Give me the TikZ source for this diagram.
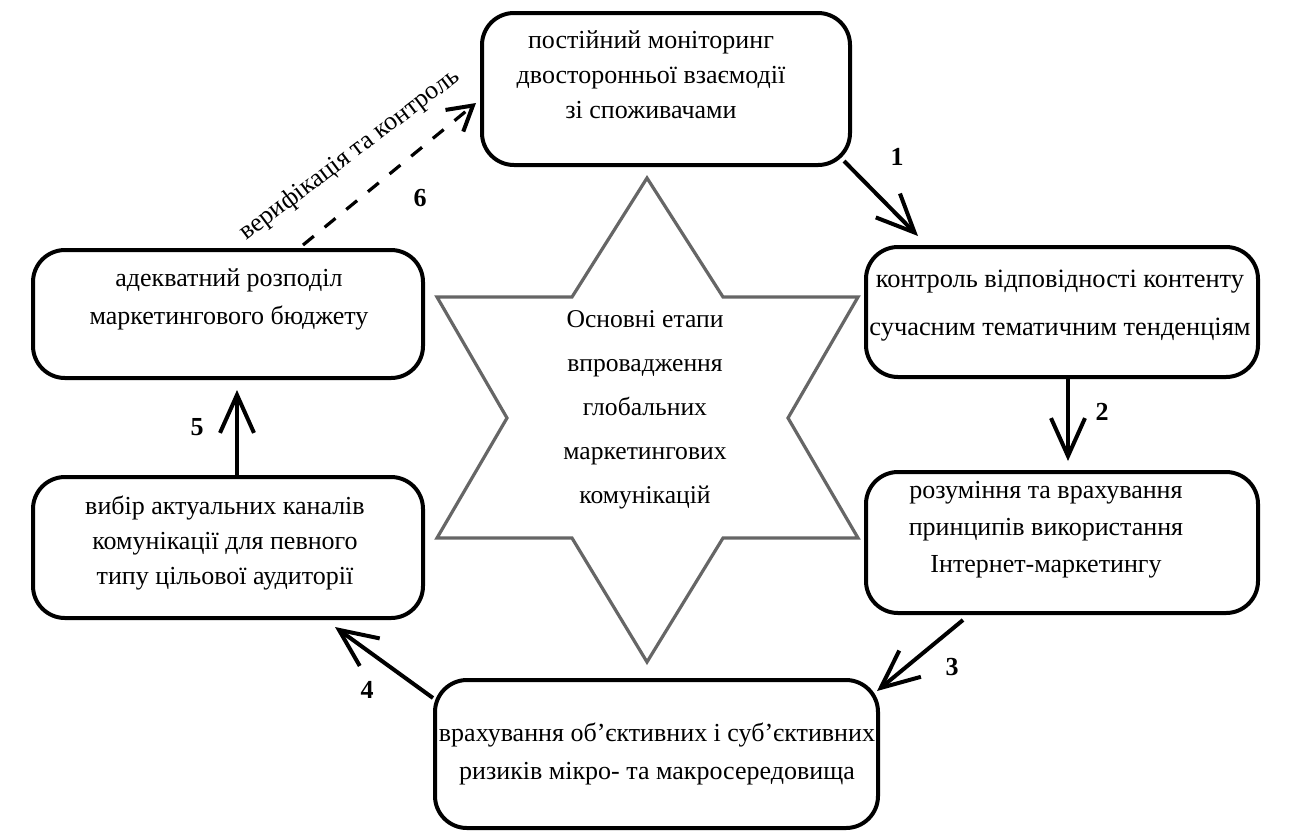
\documentclass[tikz,border=0pt]{standalone}
\usepackage{fontspec}
\setmainfont{Liberation Serif}
\usetikzlibrary{arrows.meta,calc}
\begin{document}
\begin{tikzpicture}[x=0.5pt,y=-0.5pt,
  box/.style={draw=black, line width=2pt, rounded corners=16pt, inner sep=0pt},
  txt/.style={align=center, inner sep=0pt, text=black, font=\fontsize{13}{#1}\selectfont},
  num/.style={inner sep=0pt, font=\fontsize{13}{13}\selectfont\bfseries},
  conn/.style={line width=2pt, -{Straight Barb[length=19pt,width=17pt,line width=2pt]}},
  dconn/.style={line width=1.6pt, dash pattern=on 7pt off 7pt, -{Straight Barb[length=12pt,width=14pt,line width=2pt]}},
  starline/.style={draw=black!60, line width=1.6pt, line join=miter}
]
\useasboundingbox[fill=white] (0,0) rectangle (1301,832);

% boxes
\node[box, minimum width=184pt, minimum height=76pt] (top) at (666,89) {};
\node[box, minimum width=196pt, minimum height=65pt] (r1) at (1062,312) {};
\node[box, minimum width=196pt, minimum height=70.5pt] (r2) at (1062,542.5) {};
\node[box, minimum width=221.5pt, minimum height=74pt] (bot) at (656.5,754) {};
\node[box, minimum width=195pt, minimum height=70.5pt] (l1) at (228,547.5) {};
\node[box, minimum width=195pt, minimum height=64pt] (l2) at (228,314) {};

% texts
\node[txt=17.5] (ttop) at (651,75) {постійний моніторинг\\двосторонньої взаємодії\\зі споживачами};
\node[txt=24, font=\fontsize{13.2}{24}\selectfont] (tr1) at (1060,306) {контроль відповідності контенту\\сучасним тематичним тенденціям};
\node[txt=18.5] (tr2) at (1046,530) {розуміння та врахування\\принципів використання\\Інтернет-маркетингу};
\node[txt=19] (tbot) at (657,754) {врахування об’єктивних і суб’єктивних\\ризиків мікро- та макросередовища};
\node[txt=19] (tl2) at (229,299) {адекватний розподіл\\маркетингового бюджету};
\node[txt=17.5] (tl1) at (225,543) {вибір актуальних каналів\\комунікації для певного\\типу цільової аудиторії};

% star
\draw[starline] (647,178) -- (723,297) -- (858,297) -- (788,418) -- (858,538) -- (723,538)
  -- (647,662) -- (572,538) -- (437,538) -- (507,418) -- (437,297) -- (572,297) -- cycle;
\node[txt=22, font=\fontsize{12.8}{22}\selectfont] (tstar) at (645,410) {Основні етапи\\впровадження\\глобальних\\маркетингових\\комунікацій};

% connectors
\draw[conn] ($(top.south east)+(-8,-6)$) -- ($(r1.north west)+(54,-9)$);
\draw[conn] ($(r1.south)+(6,0)$) -- ($(r2.north)+(6,-9)$);
\draw[conn] ($(r2.south west)+(99,5)$) -- ($(bot.north east)+(-3,13)$);
\draw[conn] ($(bot.north west)+(0,20)$) -- ($(l1.south east)+(-90,7)$);
\draw[conn] ($(l1.north)+(9,0)$) -- ($(l2.south)+(9,10)$);
\draw[dconn] ($(l2.north west)+(272,-3)$) -- ($(top.west)+(-4,14)$);

% labels
\node[num] (n1) at (897,157) {1};
\node[num] (n2) at (1102,412) {2};
\node[num] (n3) at (952,667) {3};
\node[num] (n4) at (367,690) {4};
\node[num] (n5) at (197,427) {5};
\node[num] (n6) at (420,198) {6};
\node[txt=13, rotate=37] (lbl) at (350,155) {верифікація та контроль};
\end{tikzpicture}
\end{document}
